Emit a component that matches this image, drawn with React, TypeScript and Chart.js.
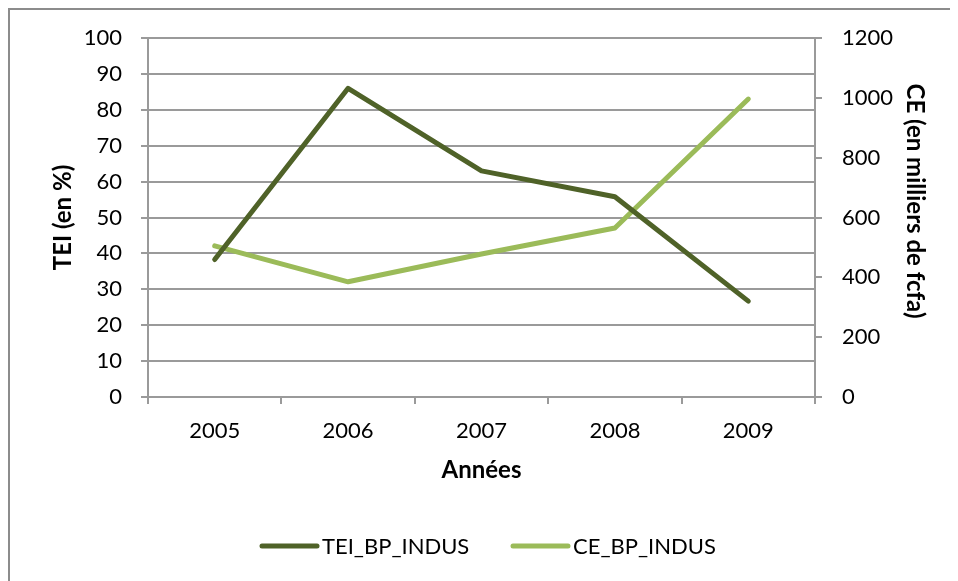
import React, { useEffect, useRef } from "react";
import { Chart, registerables } from "chart.js";

Chart.register(...registerables);

const years = ["2005", "2006", "2007", "2008", "2009"];
const teiValues = [38.3, 86, 63, 55.8, 26.7];
const ceValues = [505, 385, 478, 565, 996];
const seriesNames = ["TEI_BP_INDUS", "CE_BP_INDUS"];
const seriesColors = ["#4F6228", "#9BBB59"];
const leftTitle = "TEI (en %)";
const rightTitle = "CE (en milliers de fcfa)";
const xTitle = "Années";

const FONT = "Lato, 'Open Sans', sans-serif";
const GRID = "#9a9a9a";
const TICK_SIZE = 22;
const TITLE_SIZE = 24;

const overlayPlugin = {
  id: "overlay",
  afterDraw(chart: any) {
    const ctx = chart.ctx;
    ctx.save();
    // right axis title
    ctx.font = `bold ${TITLE_SIZE}px ${FONT}`;
    ctx.fillStyle = "#000";
    ctx.textAlign = "center";
    ctx.textBaseline = "middle";
    ctx.translate(905, 191);
    ctx.rotate(Math.PI / 2);
    ctx.fillText(rightTitle, 0, 0);
    ctx.restore();

    // legend
    ctx.save();
    const y = 536;
    const items = [
      { x: 252, text: seriesNames[0], color: seriesColors[0] },
      { x: 503, text: seriesNames[1], color: seriesColors[1] },
    ];
    ctx.font = `${TICK_SIZE}px ${FONT}`;
    ctx.textBaseline = "middle";
    ctx.textAlign = "left";
    for (const it of items) {
      ctx.strokeStyle = it.color;
      ctx.lineWidth = 5;
      ctx.lineCap = "round";
      ctx.beginPath();
      ctx.moveTo(it.x, y);
      ctx.lineTo(it.x + 55, y);
      ctx.stroke();
      ctx.fillStyle = "#000";
      ctx.fillText(it.text, it.x + 60, y + 1);
    }
    ctx.restore();
  },
};

export default function App() {
  const ref = useRef<HTMLCanvasElement | null>(null);
  useEffect(() => {
    if (!ref.current) return;
    const tickFont = { family: FONT, size: TICK_SIZE, lineHeight: 1.2 };
    const titleFont = { family: FONT, size: TITLE_SIZE, weight: "bold", lineHeight: 1.2 };
    const chart = new Chart(ref.current, {
      type: "line",
      data: {
        labels: years,
        datasets: [
          {
            label: seriesNames[0],
            data: teiValues,
            borderColor: seriesColors[0],
            backgroundColor: seriesColors[0],
            borderWidth: 5,
            pointRadius: 0,
            pointHoverRadius: 0,
            borderCapStyle: "round",
            borderJoinStyle: "round",
            yAxisID: "y",
            tension: 0,
          },
          {
            label: seriesNames[1],
            data: ceValues,
            borderColor: seriesColors[1],
            backgroundColor: seriesColors[1],
            borderWidth: 5,
            pointRadius: 0,
            pointHoverRadius: 0,
            borderCapStyle: "round",
            borderJoinStyle: "round",
            yAxisID: "y1",
            tension: 0,
          },
        ],
      },
      options: {
        animation: false,
        responsive: false,
        layout: { autoPadding: false, padding: { top: 28, left: 0, right: 0, bottom: 84 } },
        plugins: {
          legend: { display: false },
          tooltip: { enabled: false },
        },
        scales: {
          x: {
            offset: true,
            grid: {
              offset: true,
              drawOnChartArea: false,
              drawTicks: true,
              tickLength: 7,
              color: GRID,
              lineWidth: 2,
            },
            border: { display: true, color: GRID, width: 2 },
            ticks: { font: tickFont, color: "#000", padding: 14, maxRotation: 0 },
            title: {
              display: true,
              text: xTitle,
              font: titleFont,
              color: "#000",
              padding: { top: 0, bottom: 12 },
            },
            afterFit(s: any) {
              s.height = 100;
              s.paddingLeft = 0;
              s.paddingRight = 0;
            },
          },
          y: {
            position: "left",
            min: 0,
            max: 100,
            ticks: { stepSize: 10, font: tickFont, color: "#000", padding: 19 },
            grid: { color: GRID, lineWidth: 2, tickLength: 7, drawTicks: true },
            border: { display: true, color: GRID, width: 2 },
            title: {
              display: true,
              text: leftTitle,
              font: titleFont,
              color: "#000",
              padding: { top: 39, bottom: 0 },
            },
            afterFit(s: any) {
              s.width = 138;
              s.paddingTop = 0;
              s.paddingBottom = 0;
            },
          },
          y1: {
            position: "right",
            min: 0,
            max: 1200,
            ticks: {
              stepSize: 200,
              font: tickFont,
              color: "#000",
              padding: 20,
              callback: (v: any) => String(v),
            },
            grid: { drawOnChartArea: false, color: GRID, lineWidth: 2, tickLength: 7, drawTicks: true },
            border: { display: true, color: GRID, width: 2 },
            title: { display: false },
            afterFit(s: any) {
              s.width = 143;
              s.paddingTop = 0;
              s.paddingBottom = 0;
            },
          },
        },
      } as any,
      plugins: [overlayPlugin],
    });
    return () => chart.destroy();
  }, []);

  return (
    <div
      style={{
        width: 948,
        height: 571,
        borderLeft: "2px solid #8c8c8c",
        borderTop: "2px solid #8c8c8c",
        background: "#fff",
      }}
    >
      <canvas ref={ref} width={948} height={571} style={{ display: "block", width: 948, height: 571 }} />
    </div>
  );
}
